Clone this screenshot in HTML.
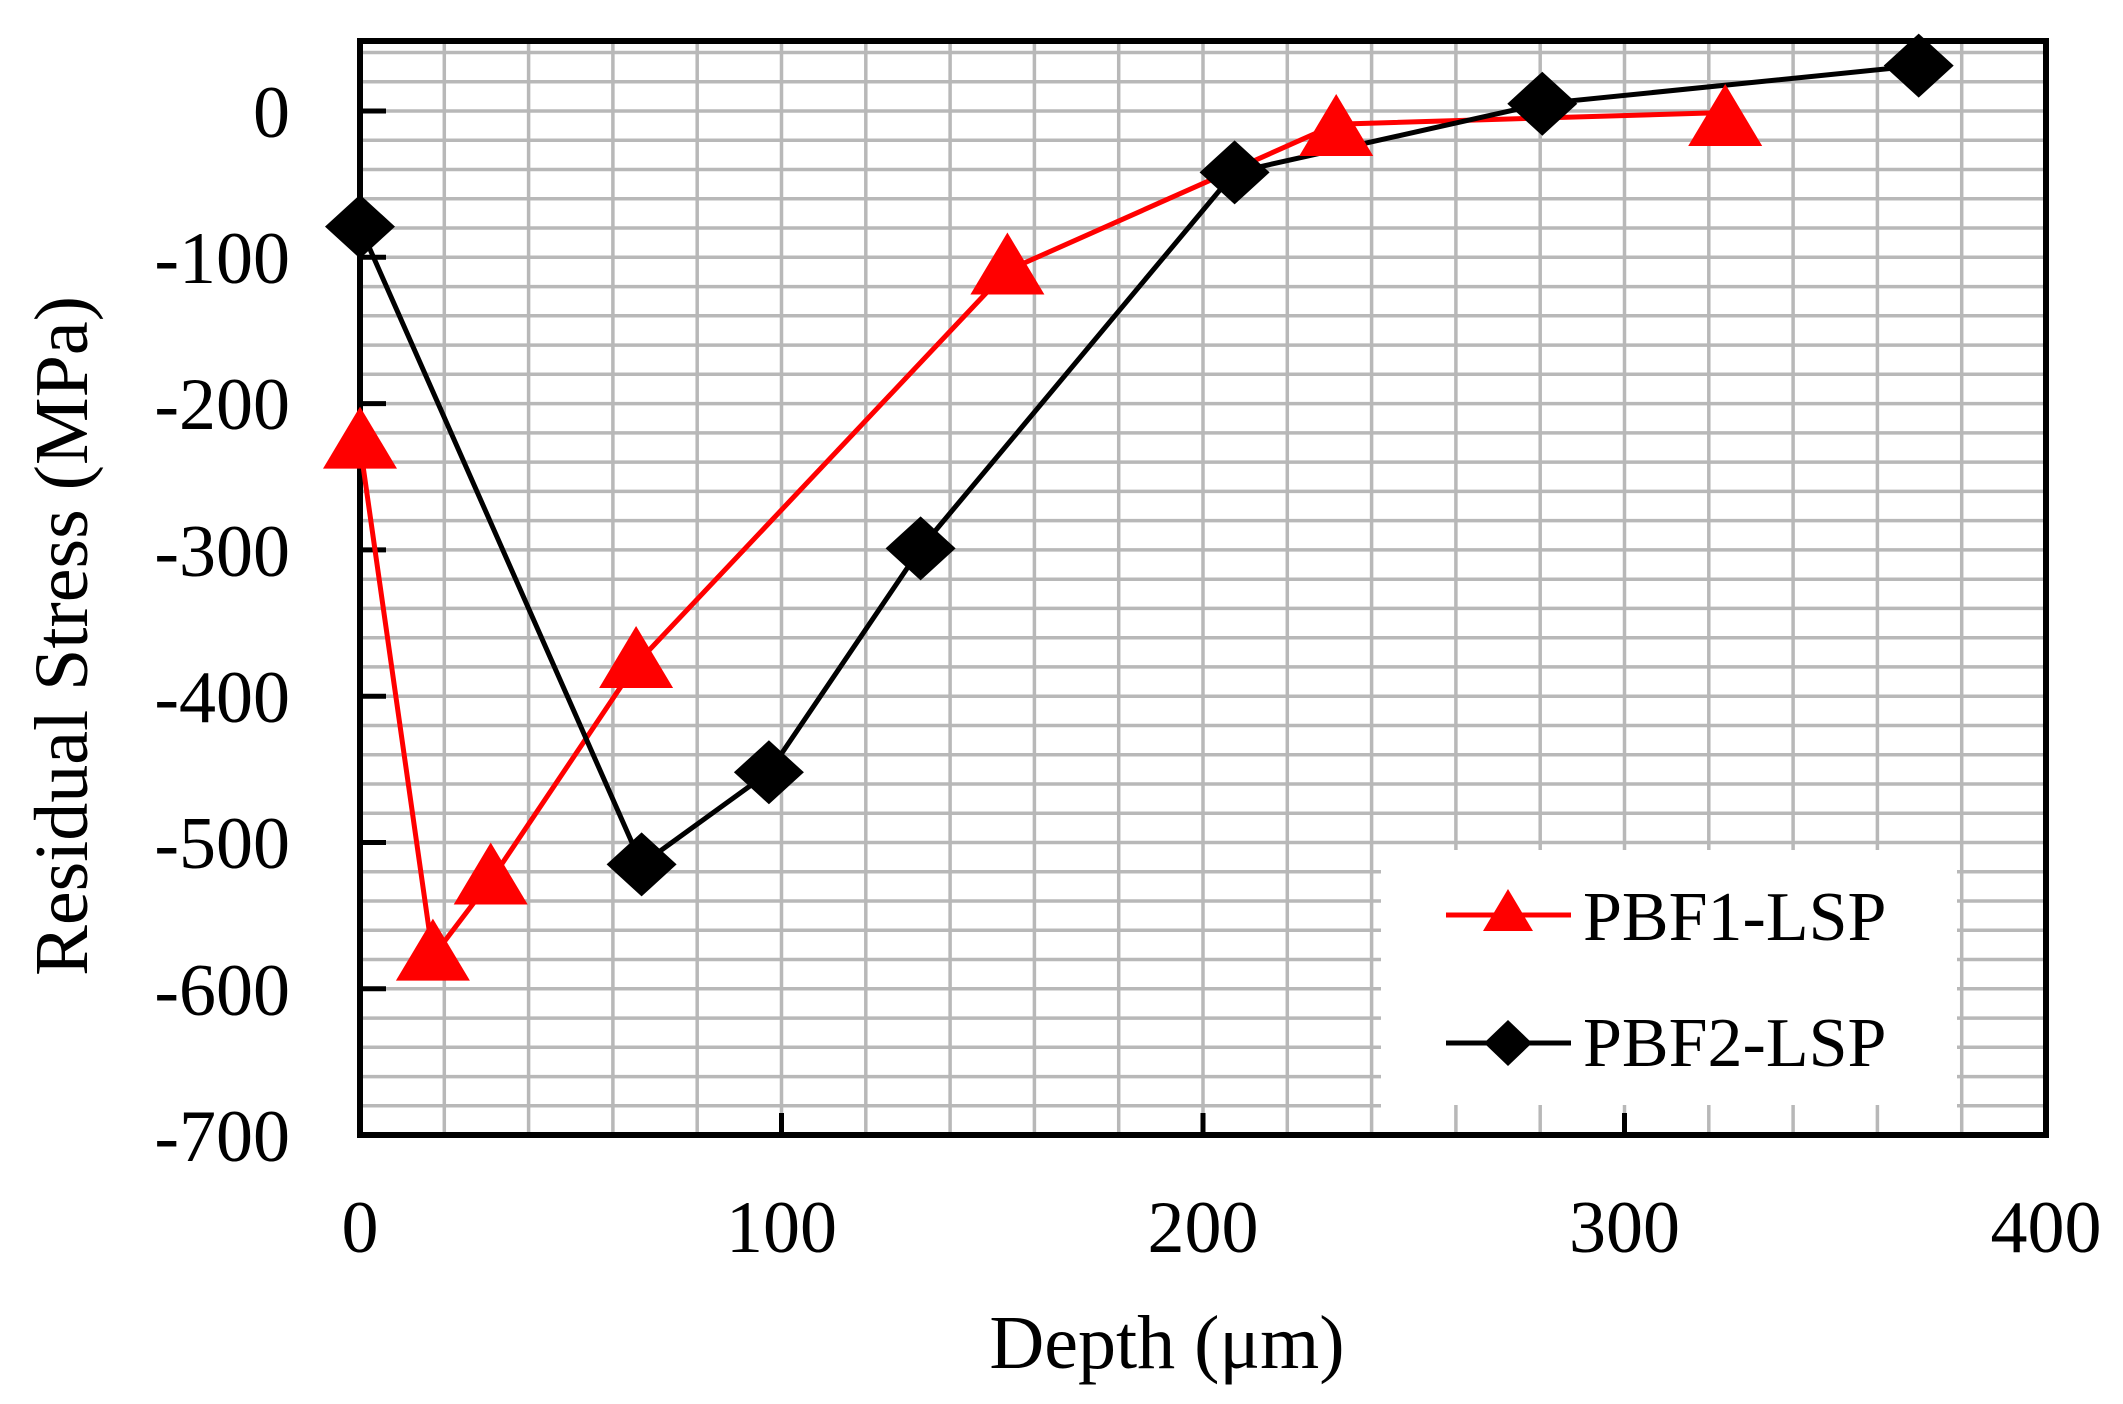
<!DOCTYPE html>
<html><head><meta charset="utf-8"><style>
html,body{margin:0;padding:0;background:#fff;}
svg{display:block;}
text{font-family:"Liberation Serif",serif;fill:#000;}
</style></head><body>
<svg width="2123" height="1404" viewBox="0 0 2123 1404" xmlns="http://www.w3.org/2000/svg">
<rect width="2123" height="1404" fill="#fff"/>
<g stroke="#b8b8b8" stroke-width="3.5">
<line x1="444.3" y1="41" x2="444.3" y2="1135"/>
<line x1="528.6" y1="41" x2="528.6" y2="1135"/>
<line x1="612.9" y1="41" x2="612.9" y2="1135"/>
<line x1="697.2" y1="41" x2="697.2" y2="1135"/>
<line x1="781.5" y1="41" x2="781.5" y2="1135"/>
<line x1="865.8" y1="41" x2="865.8" y2="1135"/>
<line x1="950.1" y1="41" x2="950.1" y2="1135"/>
<line x1="1034.4" y1="41" x2="1034.4" y2="1135"/>
<line x1="1118.7" y1="41" x2="1118.7" y2="1135"/>
<line x1="1203" y1="41" x2="1203" y2="1135"/>
<line x1="1287.3" y1="41" x2="1287.3" y2="1135"/>
<line x1="1371.6" y1="41" x2="1371.6" y2="1135"/>
<line x1="1455.9" y1="41" x2="1455.9" y2="1135"/>
<line x1="1540.2" y1="41" x2="1540.2" y2="1135"/>
<line x1="1624.5" y1="41" x2="1624.5" y2="1135"/>
<line x1="1708.8" y1="41" x2="1708.8" y2="1135"/>
<line x1="1793.1" y1="41" x2="1793.1" y2="1135"/>
<line x1="1877.4" y1="41" x2="1877.4" y2="1135"/>
<line x1="1961.7" y1="41" x2="1961.7" y2="1135"/>
<line x1="360" y1="52.5" x2="2046" y2="52.5"/>
<line x1="360" y1="81.7" x2="2046" y2="81.7"/>
<line x1="360" y1="111" x2="2046" y2="111"/>
<line x1="360" y1="140.3" x2="2046" y2="140.3"/>
<line x1="360" y1="169.5" x2="2046" y2="169.5"/>
<line x1="360" y1="198.8" x2="2046" y2="198.8"/>
<line x1="360" y1="228" x2="2046" y2="228"/>
<line x1="360" y1="257.3" x2="2046" y2="257.3"/>
<line x1="360" y1="286.6" x2="2046" y2="286.6"/>
<line x1="360" y1="315.8" x2="2046" y2="315.8"/>
<line x1="360" y1="345.1" x2="2046" y2="345.1"/>
<line x1="360" y1="374.3" x2="2046" y2="374.3"/>
<line x1="360" y1="403.6" x2="2046" y2="403.6"/>
<line x1="360" y1="432.9" x2="2046" y2="432.9"/>
<line x1="360" y1="462.1" x2="2046" y2="462.1"/>
<line x1="360" y1="491.4" x2="2046" y2="491.4"/>
<line x1="360" y1="520.6" x2="2046" y2="520.6"/>
<line x1="360" y1="549.9" x2="2046" y2="549.9"/>
<line x1="360" y1="579.2" x2="2046" y2="579.2"/>
<line x1="360" y1="608.4" x2="2046" y2="608.4"/>
<line x1="360" y1="637.7" x2="2046" y2="637.7"/>
<line x1="360" y1="666.9" x2="2046" y2="666.9"/>
<line x1="360" y1="696.2" x2="2046" y2="696.2"/>
<line x1="360" y1="725.5" x2="2046" y2="725.5"/>
<line x1="360" y1="754.7" x2="2046" y2="754.7"/>
<line x1="360" y1="784" x2="2046" y2="784"/>
<line x1="360" y1="813.2" x2="2046" y2="813.2"/>
<line x1="360" y1="842.5" x2="2046" y2="842.5"/>
<line x1="360" y1="871.8" x2="2046" y2="871.8"/>
<line x1="360" y1="901" x2="2046" y2="901"/>
<line x1="360" y1="930.3" x2="2046" y2="930.3"/>
<line x1="360" y1="959.5" x2="2046" y2="959.5"/>
<line x1="360" y1="988.8" x2="2046" y2="988.8"/>
<line x1="360" y1="1018.1" x2="2046" y2="1018.1"/>
<line x1="360" y1="1047.3" x2="2046" y2="1047.3"/>
<line x1="360" y1="1076.6" x2="2046" y2="1076.6"/>
<line x1="360" y1="1105.8" x2="2046" y2="1105.8"/>
</g>
<rect x="1381" y="850" width="576" height="285" fill="#fff"/>
<g stroke="#b8b8b8" stroke-width="3.5">
<line x1="1455.9" y1="1105" x2="1455.9" y2="1135"/>
<line x1="1540.2" y1="1105" x2="1540.2" y2="1135"/>
<line x1="1624.5" y1="1105" x2="1624.5" y2="1135"/>
<line x1="1708.8" y1="1105" x2="1708.8" y2="1135"/>
<line x1="1793.1" y1="1105" x2="1793.1" y2="1135"/>
<line x1="1877.4" y1="1105" x2="1877.4" y2="1135"/>
</g>
<g stroke="#000" stroke-width="5">
<line x1="360" y1="111" x2="386" y2="111"/>
<line x1="360" y1="257.3" x2="386" y2="257.3"/>
<line x1="360" y1="403.6" x2="386" y2="403.6"/>
<line x1="360" y1="549.9" x2="386" y2="549.9"/>
<line x1="360" y1="696.2" x2="386" y2="696.2"/>
<line x1="360" y1="842.5" x2="386" y2="842.5"/>
<line x1="360" y1="988.8" x2="386" y2="988.8"/>
<line x1="781.5" y1="1135" x2="781.5" y2="1113"/>
<line x1="1203" y1="1135" x2="1203" y2="1113"/>
<line x1="1624.5" y1="1135" x2="1624.5" y2="1113"/>
</g>
<rect x="360" y="41" width="1686" height="1094" fill="none" stroke="#000" stroke-width="6"/>
<polyline fill="none" stroke="#ff0000" stroke-width="5" points="360,444.6 432.9,956.6 490.7,880.5 636.1,664 1007.4,270.5 1336.2,124.2 1725.2,112.5"/>
<polyline fill="none" stroke="#000" stroke-width="5" points="360,226.6 641.6,864.4 768.9,772.3 920.6,548.4 1234.6,172.4 1542.3,103.7 1918.7,65.6"/>
<g fill="#ff0000">
<polygon points="360,406.6 397,468.6 323,468.6"/>
<polygon points="432.9,918.6 469.9,980.6 395.9,980.6"/>
<polygon points="490.7,842.5 527.7,904.5 453.7,904.5"/>
<polygon points="636.1,626 673.1,688 599.1,688"/>
<polygon points="1007.4,232.5 1044.4,294.5 970.4,294.5"/>
<polygon points="1336.2,94 1373.2,156 1299.2,156"/>
<polygon points="1725.2,84 1762.2,146 1688.2,146"/>
</g>
<g fill="#000">
<polygon points="360,194.6 395,226.6 360,258.6 325,226.6"/>
<polygon points="641.6,832.4 676.6,864.4 641.6,896.4 606.6,864.4"/>
<polygon points="768.9,740.3 803.9,772.3 768.9,804.3 733.9,772.3"/>
<polygon points="920.6,516.4 955.6,548.4 920.6,580.4 885.6,548.4"/>
<polygon points="1234.6,140.4 1269.6,172.4 1234.6,204.4 1199.6,172.4"/>
<polygon points="1542.3,71.7 1577.3,103.7 1542.3,135.7 1507.3,103.7"/>
<polygon points="1918.7,33.6 1953.7,65.6 1918.7,97.6 1883.7,65.6"/>
</g>
<line x1="1446" y1="915" x2="1571" y2="915" stroke="#ff0000" stroke-width="5"/>
<polygon points="1508,889 1533,931 1483,931" fill="#ff0000"/>
<text x="1583" y="940" font-size="70">PBF1-LSP</text>
<line x1="1446" y1="1043" x2="1571" y2="1043" stroke="#000" stroke-width="5"/>
<polygon points="1508,1020 1532,1043 1508,1066 1484,1043" fill="#000"/>
<text x="1583" y="1066" font-size="70">PBF2-LSP</text>
<g font-size="74" text-anchor="end">
<text x="290" y="137">0</text>
<text x="290" y="283">-100</text>
<text x="290" y="429">-200</text>
<text x="290" y="576">-300</text>
<text x="290" y="722">-400</text>
<text x="290" y="868">-500</text>
<text x="290" y="1015">-600</text>
<text x="290" y="1161">-700</text>
</g>
<g font-size="74" text-anchor="middle">
<text x="360" y="1252">0</text>
<text x="781.5" y="1252">100</text>
<text x="1203" y="1252">200</text>
<text x="1624.5" y="1252">300</text>
<text x="2046" y="1252">400</text>
</g>
<text x="1167" y="1368" font-size="76" text-anchor="middle">Depth (μm)</text>
<text transform="translate(87,636) rotate(-90)" font-size="76" text-anchor="middle">Residual Stress (MPa)</text>
</svg>
</body></html>
